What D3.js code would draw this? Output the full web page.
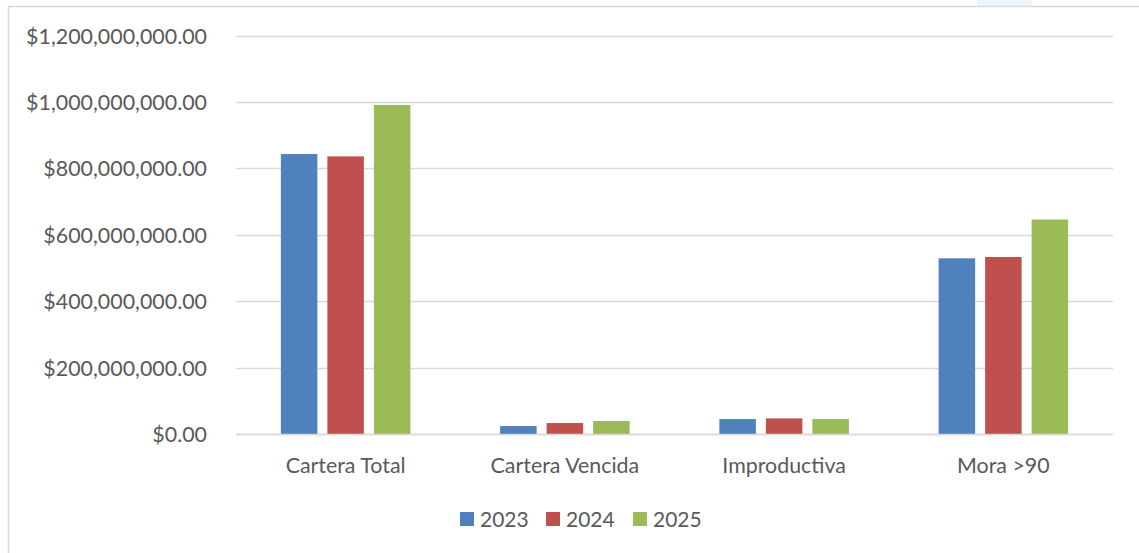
<!DOCTYPE html>
<html>
<head>
<meta charset="utf-8">
<script src="https://cdn.jsdelivr.net/npm/d3@7"></script>
<style>
  html, body { margin: 0; padding: 0; background: #ffffff; }
  svg { display: block; }
  text { font-family: Lato, "Open Sans", sans-serif; fill: #595959; }
</style>
</head>
<body>
<svg id="chart" width="1139" height="553"></svg>
<script>
// Portfolio indicators by year
const categories = ["Cartera Total", "Cartera Vencida", "Improductiva", "Mora >90"];
const years = ["2023", "2024", "2025"];
const values2023 = [843000000, 24000000, 45000000, 529000000];
const values2024 = [836000000, 33000000, 47000000, 533000000];
const values2025 = [991000000, 39000000, 45000000, 646000000];
const yTicks = [0, 200000000, 400000000, 600000000, 800000000, 1000000000, 1200000000];
const colors = ["#4F81BD", "#C0504D", "#9BBB59"];

const seriesValues = [values2023, values2024, values2025];
const rows = categories.map((c, i) => ({
  category: c,
  bars: years.map((y, j) => ({ year: y, value: seriesValues[j][i], color: colors[j] }))
}));

const svg = d3.select("#chart");

// outer frame of the chart area
svg.append("rect").attr("x", 977).attr("y", 0).attr("width", 55).attr("height", 6).attr("fill", "#EEF4FC");
svg.append("rect")
  .attr("x", 8.5).attr("y", 6.5).attr("width", 1140).attr("height", 560)
  .attr("fill", "none").attr("stroke", "#D9D9D9").attr("stroke-width", 1.5);

const plot = { left: 236, right: 1113, top: 35.5, bottom: 434 };

const y = d3.scaleLinear().domain([0, 1200000000]).range([plot.bottom, plot.top]);
const x0 = d3.scaleBand().domain(categories).range([plot.left, plot.right]).padding(0);
const groupW = 129.5;
const x1 = d3.scaleBand().domain(years).range([0, groupW]).paddingInner(0.215).paddingOuter(0);

const fmt = v => "$" + d3.format(",.2f")(v);
const labelSize = 21.4;

// gridlines
svg.append("g")
  .selectAll("line")
  .data(yTicks)
  .join("line")
  .attr("x1", plot.left).attr("x2", plot.right)
  .attr("y1", d => Math.round(y(d)) + 0.5).attr("y2", d => Math.round(y(d)) + 0.5)
  .attr("stroke", "#D9D9D9").attr("stroke-width", 1.5);

// y axis labels
const yAxis = d3.axisLeft(y).tickValues(yTicks).tickFormat(fmt).tickSize(0).tickPadding(0);
const gy = svg.append("g").attr("transform", "translate(207,0)").call(yAxis);
gy.select(".domain").remove();
gy.selectAll("text").attr("font-size", labelSize).style("font-family", "Lato, sans-serif").attr("fill", "#595959").attr("dy", "0.35em");

// bars
const groups = svg.append("g").selectAll("g")
  .data(rows)
  .join("g")
  .attr("transform", d => `translate(${x0(d.category) + (x0.bandwidth() - groupW) / 2},0)`);

groups.selectAll("rect")
  .data(d => d.bars)
  .join("rect")
  .attr("x", d => x1(d.year))
  .attr("width", x1.bandwidth())
  .attr("y", d => y(d.value))
  .attr("height", d => y(0) - y(d.value))
  .attr("fill", d => d.color);

// baseline
svg.append("line")
  .attr("x1", plot.left).attr("x2", plot.right)
  .attr("y1", y(0) + 0.5).attr("y2", y(0) + 0.5)
  .attr("stroke", "#D9D9D9").attr("stroke-width", 1.5);

// category axis
const xAxis = d3.axisBottom(x0).tickSize(0).tickPadding(0);
const gx = svg.append("g").attr("transform", `translate(0,${plot.bottom})`).call(xAxis);
gx.select(".domain").remove();
gx.selectAll("text").attr("font-size", labelSize).style("font-family", "Lato, sans-serif").attr("fill", "#595959").attr("y", 39).attr("dy", 0);

// legend
const legendItems = [
  { year: years[0], color: colors[0], x: 460 },
  { year: years[1], color: colors[1], x: 546 },
  { year: years[2], color: colors[2], x: 633 }
];
const lg = svg.append("g").selectAll("g").data(legendItems).join("g")
  .attr("transform", d => `translate(${d.x},512)`);
lg.append("rect").attr("width", 14).attr("height", 14).attr("fill", d => d.color);
lg.append("text").attr("x", 20).attr("y", 15).attr("font-size", 21).text(d => d.year);
</script>
</body>
</html>
